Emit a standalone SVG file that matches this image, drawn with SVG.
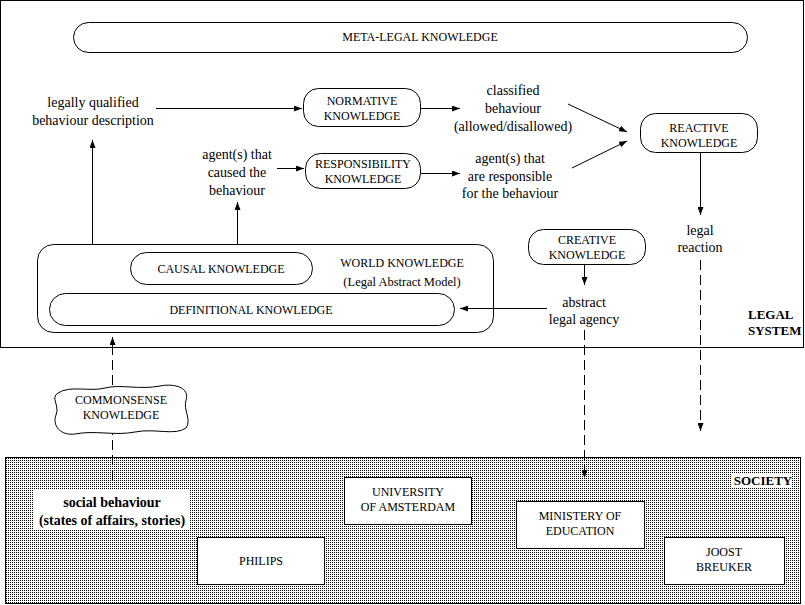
<svg xmlns="http://www.w3.org/2000/svg" width="805" height="605" viewBox="0 0 805 605">
<defs>
<style>
text{font-family:"Liberation Serif","Times New Roman",serif;fill:#000;text-anchor:middle}
.u{font-size:12px}
.l{font-size:14px}
.b{font-weight:bold}
.node{fill:#fff;stroke:#000;stroke-width:1}
.ln{fill:none;stroke:#000;stroke-width:1}
.dash{fill:none;stroke:#000;stroke-width:1;stroke-dasharray:10 5}
</style>
<marker id="ah" viewBox="0 0 8 6" refX="8" refY="3" markerWidth="8" markerHeight="6" markerUnits="userSpaceOnUse" orient="auto">
<path d="M0,0 L8,3 L0,6 Z" fill="#000"/>
</marker>
<pattern id="stip" width="2" height="2" patternUnits="userSpaceOnUse">
<rect width="2" height="2" fill="#fff"/>
<rect width="1" height="1" fill="#000"/>
</pattern>
</defs>
<rect width="805" height="605" fill="#fff"/>

<g id="legal-system">
<rect x="0.5" y="0.5" width="803" height="347" fill="#fff" stroke="#000"/>
<text class="b" x="748" y="319" style="text-anchor:start;font-size:13px">LEGAL</text>
<text class="b" x="748" y="335" style="text-anchor:start;font-size:13px">SYSTEM</text>
</g>

<g id="society">
<rect x="5.5" y="457.5" width="795" height="146" fill="url(#stip)" stroke="#000"/>
<rect x="732" y="473" width="60" height="15" fill="#fff"/>
<text class="b" x="763" y="485" style="font-size:13px">SOCIETY</text>
</g>

<g id="meta-legal">
<rect class="node" x="73.5" y="22.5" width="674" height="30" rx="15"/>
<text class="u" x="420" y="41">META-LEGAL KNOWLEDGE</text>
</g>

<g id="legally-qualified">
<text class="l" x="93" y="107">legally qualified</text>
<text class="l" x="93" y="125">behaviour description</text>
</g>

<g id="normative">
<rect class="node" x="303.5" y="88.5" width="117" height="38" rx="15"/>
<text class="u" x="362" y="105">NORMATIVE</text>
<text class="u" x="362" y="120">KNOWLEDGE</text>
</g>

<g id="classified">
<text class="l" x="513" y="95">classified</text>
<text class="l" x="513" y="113">behaviour</text>
<text class="l" x="513" y="131">(allowed/disallowed)</text>
</g>

<g id="agents-caused">
<text class="l" x="237" y="159">agent(s) that</text>
<text class="l" x="237" y="177">caused the</text>
<text class="l" x="237" y="195">behaviour</text>
</g>

<g id="responsibility">
<rect class="node" x="305.5" y="153.5" width="115" height="35" rx="15"/>
<text class="u" x="363" y="168">RESPONSIBILITY</text>
<text class="u" x="363" y="183">KNOWLEDGE</text>
</g>

<g id="agents-responsible">
<text class="l" x="510" y="163">agent(s) that</text>
<text class="l" x="510" y="181">are responsible</text>
<text class="l" x="510" y="198">for the behaviour</text>
</g>

<g id="reactive">
<rect class="node" x="640.5" y="113.5" width="117" height="39" rx="15"/>
<text class="u" x="699" y="132">REACTIVE</text>
<text class="u" x="699" y="147">KNOWLEDGE</text>
</g>

<g id="legal-reaction">
<text class="l" x="700" y="235">legal</text>
<text class="l" x="700" y="252">reaction</text>
</g>

<g id="creative">
<rect class="node" x="528.5" y="229.5" width="117" height="35" rx="15"/>
<text class="u" x="587" y="244">CREATIVE</text>
<text class="u" x="587" y="259">KNOWLEDGE</text>
</g>

<g id="abstract-agency">
<text class="l" x="584" y="307">abstract</text>
<text class="l" x="584" y="324">legal agency</text>
</g>

<g id="world">
<rect class="node" x="37.5" y="244.5" width="456" height="88" rx="16"/>
<text class="u" x="402" y="267">WORLD KNOWLEDGE</text>
<text class="u" x="402" y="286" style="font-size:12.5px">(Legal Abstract Model)</text>
</g>

<g id="causal">
<rect class="node" x="130.5" y="252.5" width="182" height="32" rx="16"/>
<text class="u" x="221" y="273">CAUSAL KNOWLEDGE</text>
</g>

<g id="definitional">
<rect class="node" x="49.5" y="293.5" width="405" height="32" rx="16"/>
<text class="u" x="251" y="314">DEFINITIONAL KNOWLEDGE</text>
</g>

<g id="commonsense">
<path class="node" d="M58 393 C70 385,90 392,105 388 C120 384,140 390,160 386 C175 383,190 388,186 400 C183 410,192 420,186 428 C175 436,155 428,135 432 C115 436,95 430,75 434 C60 436,52 425,56 415 C60 405,50 398,58 393 Z"/>
<text class="u" x="121" y="404">COMMONSENSE</text>
<text class="u" x="121" y="419">KNOWLEDGE</text>
</g>

<g id="social-behaviour">
<rect x="33" y="490" width="157" height="40" fill="#fff"/>
<text class="l b" x="112" y="507">social behaviour</text>
<text class="l b" x="112" y="525">(states of affairs, stories)</text>
</g>

<g id="university">
<rect class="node" x="344.5" y="477.5" width="127" height="47"/>
<text class="u" x="408" y="496">UNIVERSITY</text>
<text class="u" x="408" y="511">OF AMSTERDAM</text>
</g>

<g id="philips">
<rect class="node" x="197.5" y="537.5" width="127" height="47"/>
<text class="u" x="261" y="565">PHILIPS</text>
</g>

<g id="ministry">
<rect class="node" x="516.5" y="501.5" width="128" height="47"/>
<text class="u" x="580" y="520">MINISTERY OF</text>
<text class="u" x="580" y="535">EDUCATION</text>
</g>

<g id="joost">
<rect class="node" x="664.5" y="537.5" width="120" height="47"/>
<text class="u" x="724" y="556">JOOST</text>
<text class="u" x="724" y="571">BREUKER</text>
</g>

<g id="connectors">
<line class="ln" x1="156" y1="108.5" x2="302" y2="108.5" marker-end="url(#ah)"/>
<line class="ln" x1="420" y1="108.5" x2="460" y2="108.5" marker-end="url(#ah)"/>
<line class="ln" x1="277" y1="168.5" x2="304" y2="168.5" marker-end="url(#ah)"/>
<line class="ln" x1="421" y1="173.5" x2="460" y2="173.5" marker-end="url(#ah)"/>
<line class="ln" x1="568" y1="104" x2="627" y2="132" marker-end="url(#ah)"/>
<line class="ln" x1="572" y1="168" x2="627" y2="141" marker-end="url(#ah)"/>
<line class="ln" x1="700.5" y1="152" x2="700.5" y2="215" marker-end="url(#ah)"/>
<line class="ln" x1="584.5" y1="264" x2="584.5" y2="285" marker-end="url(#ah)"/>
<line class="ln" x1="547" y1="308.5" x2="460" y2="308.5" marker-end="url(#ah)"/>
<line class="ln" x1="92.5" y1="244" x2="92.5" y2="140" marker-end="url(#ah)"/>
<line class="ln" x1="237.5" y1="244" x2="237.5" y2="202" marker-end="url(#ah)"/>
<line class="dash" x1="700.5" y1="260" x2="700.5" y2="431" marker-end="url(#ah)"/>
<line class="dash" x1="584.5" y1="330" x2="584.5" y2="478" marker-end="url(#ah)"/>
<line class="dash" x1="112.5" y1="385" x2="112.5" y2="337" marker-end="url(#ah)"/>
<line class="dash" x1="112.5" y1="480" x2="112.5" y2="433"/>
</g>
</svg>
